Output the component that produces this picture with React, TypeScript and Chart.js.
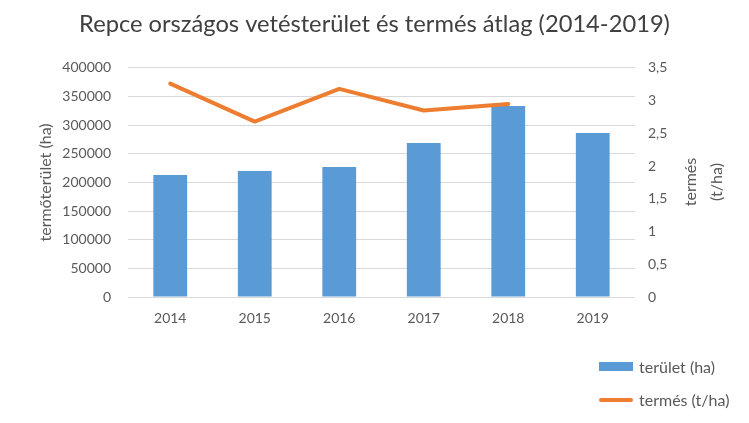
import React, { useEffect, useRef } from 'react';
import { Chart, registerables } from 'chart.js';

Chart.register(...registerables);

const chartTitle = 'Repce országos vetésterület és termés átlag (2014-2019)';
const years = ['2014', '2015', '2016', '2017', '2018', '2019'];
const areaHa = [213000, 220000, 227000, 269000, 333500, 286500];
const yieldTHa: (number | null)[] = [3.26, 2.68, 3.18, 2.85, 2.95, null];
const areaLabel = 'terület (ha)';
const yieldLabel = 'termés (t/ha)';
const leftAxisTitle = 'termőterület (ha)';
const rightAxisTitle = ['termés', '(t/ha)'];
const leftMax = 400000;
const leftStep = 50000;
const rightMax = 3.5;
const rightStep = 0.5;

const BLUE = '#5b9bd5';
const ORANGE = '#ed7d31';
const TEXT = '#595959';
const GRID = '#d9d9d9';
const FONT = 'Lato, "Open Sans", sans-serif';

export default function App() {
  const canvasRef = useRef<HTMLCanvasElement | null>(null);

  useEffect(() => {
    if (!canvasRef.current) return;
    const chart = new Chart(canvasRef.current, {
      type: 'bar',
      data: {
        labels: years,
        datasets: [
          {
            type: 'line',
            label: yieldLabel,
            data: yieldTHa,
            yAxisID: 'y1',
            borderColor: ORANGE,
            backgroundColor: ORANGE,
            borderWidth: 4,
            pointRadius: 0,
            borderCapStyle: 'round',
            borderJoinStyle: 'round',
            tension: 0,
            spanGaps: false,
            order: 0,
          } as any,
          {
            type: 'bar',
            label: areaLabel,
            data: areaHa,
            yAxisID: 'y',
            backgroundColor: BLUE,
            borderWidth: 0,
            barPercentage: 0.4,
            categoryPercentage: 1,
            order: 1,
          } as any,
        ],
      },
      options: {
        responsive: false,
        animation: false,
        layout: { padding: { left: 0, right: 0, top: 0, bottom: 86 } },
        plugins: {
          legend: { display: false },
          tooltip: { enabled: false },
          title: {
            display: true,
            text: chartTitle,
            color: '#404040',
            font: { family: FONT, size: 23.7, weight: 'normal' },
            padding: { top: 10, bottom: 29.5 },
          },
        },
        scales: {
          x: {
            grid: { display: false, drawTicks: false },
            border: { display: false },
            ticks: { color: TEXT, font: { family: FONT, size: 14 }, padding: 13 },
            afterFit: (s: any) => { s.height = 40; },
          },
          y: {
            position: 'left',
            min: 0,
            max: leftMax,
            grid: { color: GRID, lineWidth: 1, drawTicks: false },
            border: { display: false },
            ticks: {
              stepSize: leftStep,
              color: TEXT,
              font: { family: FONT, size: 14 },
              padding: 17,
              callback: (v: any) => String(v),
            },
            title: {
              display: true,
              text: leftAxisTitle,
              color: TEXT,
              font: { family: FONT, size: 16 },
              padding: { top: 36, bottom: 0 },
            },
            afterFit: (s: any) => { s.width = 128; },
          },
          y1: {
            position: 'right',
            min: 0,
            max: rightMax,
            grid: { display: false, drawTicks: false },
            border: { display: false },
            ticks: {
              stepSize: rightStep,
              color: TEXT,
              font: { family: FONT, size: 14 },
              padding: 13,
              callback: (v: any) => String(v).replace('.', ','),
            },
            afterFit: (s: any) => { s.width = 114; },
          },
        },
      } as any,
    });
    return () => chart.destroy();
  }, []);

  return (
    <div style={{ position: 'absolute', left: 0, top: 0, width: 749, height: 423, background: '#fff', fontFamily: FONT }}>
      <canvas ref={canvasRef} width={749} height={423} style={{ display: 'block' }} />
      <div
        style={{
          position: 'absolute',
          left: 703 - 40,
          top: 182 - 26,
          width: 80,
          height: 52,
          lineHeight: '26px',
          fontSize: 16,
          color: TEXT,
          textAlign: 'center',
          transform: 'rotate(-90deg)',
          whiteSpace: 'nowrap',
        }}
      >
        {rightAxisTitle.map((t) => (
          <div key={t}>{t}</div>
        ))}
      </div>
      <div style={{ position: 'absolute', left: 599, top: 362, width: 34, height: 9, background: BLUE }} />
      <div style={{ position: 'absolute', left: 639, top: 356, height: 22, lineHeight: '22px', fontSize: 16, color: TEXT, whiteSpace: 'nowrap' }}>
        {areaLabel}
      </div>
      <div style={{ position: 'absolute', left: 599, top: 398, width: 34, height: 4, borderRadius: 2, background: ORANGE }} />
      <div style={{ position: 'absolute', left: 639, top: 389, height: 22, lineHeight: '22px', fontSize: 16, color: TEXT, whiteSpace: 'nowrap' }}>
        {yieldLabel}
      </div>
    </div>
  );
}
